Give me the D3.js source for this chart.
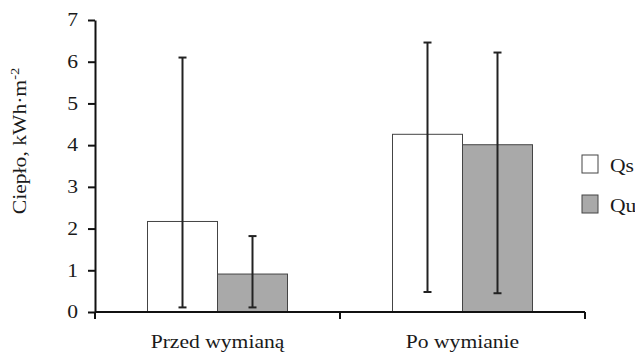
<!DOCTYPE html>
<html>
<head>
<meta charset="utf-8">
<script src="https://cdn.jsdelivr.net/npm/d3@7"></script>
<style>
  body { margin: 0; background: #fff; }
</style>
</head>
<body>
<svg id="chart" width="635" height="353"></svg>
<script>
// Dane
var kategorie = ["Przed wymianą", "Po wymianie"];
var serie = ["Qs", "Qu"];
var wartosci = {
    Qs: [2.17, 4.26],
    Qu: [0.91, 4.01]
};
// granice słupków błędu (dół, góra)
var bladDol = {
    Qs: [0.11, 0.48],
    Qu: [0.11, 0.45]
};
var bladGora = {
    Qs: [6.10, 6.46],
    Qu: [1.82, 6.22]
};
var ticksY = [0, 1, 2, 3, 4, 5, 6, 7];
var kolory = { Qs: "#ffffff", Qu: "#a9a9a9" };

var czcionka = "'Liberation Serif', 'Times New Roman', serif";
var svg = d3.select("#chart");

var x = d3.scaleBand()
    .domain(kategorie)
    .range([95, 585])
    .paddingInner(0.4286)
    .paddingOuter(0.2143);

var xs = d3.scaleBand()
    .domain(serie)
    .range([0, x.bandwidth()]);

var y = d3.scaleLinear()
    .domain([0, 7])
    .range([312, 20]);

// Słupki
serie.forEach(function(s){
    svg.append("g")
        .selectAll("rect")
        .data(kategorie)
        .enter()
        .append("rect")
        .attr("x", (d) => x(d) + xs(s))
        .attr("y", (d, i) => y(wartosci[s][i]))
        .attr("width", xs.bandwidth())
        .attr("height", (d, i) => y(0) - y(wartosci[s][i]))
        .attr("fill", kolory[s])
        .attr("stroke", "#444")
        .attr("stroke-width", 1);
});

// Słupki błędów
serie.forEach(function(s){
    var g = svg.append("g")
        .selectAll("g")
        .data(kategorie)
        .enter()
        .append("g")
        .attr("stroke", "#222")
        .attr("stroke-width", 2);
    var cx = (d) => x(d) + xs(s) + xs.bandwidth() / 2;
    g.append("line")
        .attr("x1", cx).attr("x2", cx)
        .attr("y1", (d, i) => y(bladDol[s][i]))
        .attr("y2", (d, i) => y(bladGora[s][i]));
    g.append("line")
        .attr("x1", (d) => cx(d) - 4).attr("x2", (d) => cx(d) + 4)
        .attr("y1", (d, i) => y(bladGora[s][i]))
        .attr("y2", (d, i) => y(bladGora[s][i]));
    g.append("line")
        .attr("x1", (d) => cx(d) - 4).attr("x2", (d) => cx(d) + 4)
        .attr("y1", (d, i) => y(bladDol[s][i]))
        .attr("y2", (d, i) => y(bladDol[s][i]));
});

// Oś Y
var osY = svg.append("g")
    .attr("transform", "translate(95,0)")
    .call(d3.axisLeft(y).tickValues(ticksY).tickSize(7).tickSizeOuter(0).tickPadding(0).tickFormat(d3.format("d")));
osY.selectAll("path, line").attr("stroke", "#111").attr("stroke-width", 2);
osY.selectAll("text")
    .attr("x", null)
    .attr("transform", "translate(-17,0) scale(1.2,1)")
    .style("font-family", czcionka)
    .style("font-size", "18px")
    .attr("fill", "#1a1a1a");

// Oś X
var osX = svg.append("g")
    .attr("transform", "translate(0,312)");
osX.append("line")
    .attr("x1", x.range()[0]).attr("x2", x.range()[1])
    .attr("stroke", "#111").attr("stroke-width", 2);
osX.selectAll(".kreska")
    .data(d3.range(kategorie.length + 1))
    .enter()
    .append("line")
    .attr("class", "kreska")
    .attr("x1", (d) => x.range()[0] + d * x.step())
    .attr("x2", (d) => x.range()[0] + d * x.step())
    .attr("y1", 0).attr("y2", 7)
    .attr("stroke", "#111").attr("stroke-width", 2);
osX.selectAll(".etykieta")
    .data(kategorie)
    .enter()
    .append("text")
    .attr("class", "etykieta")
    .attr("transform", (d) => "translate(" + (x(d) + x.bandwidth() / 2) + ",36) scale(1.2,1)")
    .attr("text-anchor", "middle")
    .attr("fill", "#1a1a1a")
    .style("font-family", czcionka)
    .style("font-size", "18px")
    .text((d) => d);

// Tytuł osi Y
var tytul = svg.append("text")
    .attr("transform", "translate(26,141) rotate(-90) scale(1.2,1)")
    .attr("text-anchor", "middle")
    .attr("fill", "#1a1a1a")
    .style("font-family", czcionka)
    .style("font-size", "18px");
tytul.append("tspan").text("Ciepło, kWh·m");
tytul.append("tspan").attr("dy", -7).style("font-size", "12px").text("-2");

// Legenda
var legenda = svg.append("g")
    .selectAll("g")
    .data(serie)
    .enter()
    .append("g")
    .attr("transform", (d, i) => "translate(582," + (155 + i * 40) + ")");
legenda.append("rect")
    .attr("width", 16).attr("height", 18)
    .attr("fill", (d) => kolory[d])
    .attr("stroke", "#444").attr("stroke-width", 1);
legenda.append("text")
    .attr("transform", "translate(28,17) scale(1.2,1)")
    .attr("fill", "#1a1a1a")
    .style("font-family", czcionka)
    .style("font-size", "18px")
    .text((d) => d);
</script>
</body>
</html>
